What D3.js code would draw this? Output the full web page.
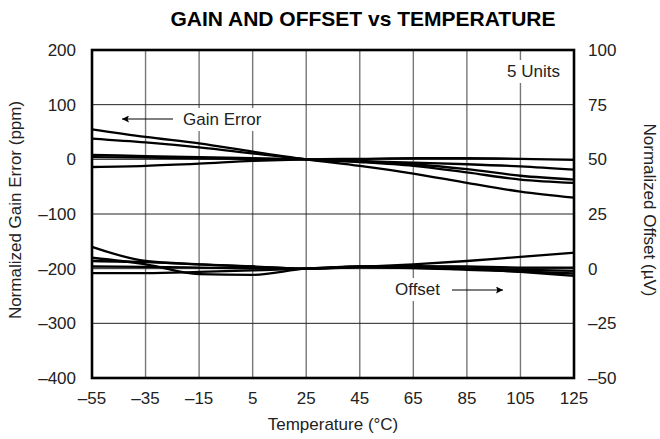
<!DOCTYPE html>
<html><head><meta charset="utf-8">
<script src="https://cdn.jsdelivr.net/npm/d3@7"></script>
<style>body{margin:0;background:#fff}svg{display:block}text{font-family:"Liberation Sans",Arial,sans-serif;fill:#222}</style>
</head><body><svg id="c" width="660" height="439"></svg>
<script>
const temps = [-55,-35,-15,5,25,45,65,85,105,125];
const xTickLabels = ["–55","–35","–15","5","25","45","65","85","105","125"];
const leftTicks = [200,100,0,-100,-200,-300,-400];
const leftTickLabels = ["200","100","0","–100","–200","–300","–400"];
const rightTicks = [100,75,50,25,0,-25,-50];
const rightTickLabels = ["100","75","50","25","0","–25","–50"];

// Gain error, ppm (left axis)
const gainA = [55,41,29,14,0,-12,-26,-43,-59,-70];
const gainB = [38,31,22,11,0,-5,-12,-24,-37,-43];
const gainC = [8,6,4,2,0,-4,-9,-18,-30,-37];
const gainD = [4,3,2,1,0,-3,-6,-9,-13,-19];
const gainE = [-14,-12,-8,-3,0,1,2,2,1,-1];
// Offset, µV (right axis)
const offA = [10,3.5,2,1,0,1,1.2,1,0.5,0.5];
const offB = [5,2,-2.5,-2.8,0,0.8,0.5,0,-0.5,-1];
const offC = [3.5,3,2,1,0,0.8,2,3.5,5.4,7.3];
const offD = [1,0.8,0.5,0.2,0,0.6,0.3,-0.5,-1.3,-2.2];
const offE = [-2,-2,-1.5,-0.8,0,1,0.8,0,-1.5,-3.3];

const svg = d3.select("#c");
const L=92,R=574,T=50,B=378;
const x = d3.scaleLinear().domain([-55,125]).range([L,R]);
const yL = d3.scaleLinear().domain([-400,200]).range([B,T]);
const yR = d3.scaleLinear().domain([-50,100]).range([B,T]);

// grid
svg.append("g").selectAll("line").data(temps.slice(1,-1)).join("line")
  .attr("x1",d=>x(d)).attr("x2",d=>x(d)).attr("y1",T).attr("y2",B)
  .attr("stroke","#777").attr("stroke-width",1.4);
svg.append("g").selectAll("line").data(leftTicks.slice(1,-1)).join("line")
  .attr("y1",d=>yL(d)).attr("y2",d=>yL(d)).attr("x1",L).attr("x2",R)
  .attr("stroke","#222").attr("stroke-width",1);

// text annotations with white boxes
function label(txt,tx,ty,anchor){
  const t = svg.append("text").attr("x",tx).attr("y",ty).attr("font-size",17).attr("text-anchor",anchor||"start").text(txt);
  const bb = t.node().getBBox();
  svg.insert("rect","text").attr("x",bb.x-3).attr("y",bb.y-2).attr("width",bb.width+6).attr("height",bb.height+4).attr("fill","#fff");
  return t;
}

// lines
const lineL = d3.line().x((d,i)=>x(temps[i])).y(d=>yL(d)).curve(d3.curveMonotoneX);
const lineR = d3.line().x((d,i)=>x(temps[i])).y(d=>yR(d)).curve(d3.curveMonotoneX);
const curves = svg.append("g").attr("fill","none").attr("stroke","#000").attr("stroke-width",2.3);
[gainA,gainB,gainC,gainD,gainE].forEach(s=>curves.append("path").attr("d",lineL(s)));
[offA,offB,offC,offD,offE].forEach(s=>curves.append("path").attr("d",lineR(s)));

label("Gain Error",183,125);
label("5 Units",507,77);
label("Offset",395,295);

// arrows
svg.append("defs").append("marker").attr("id","ah").attr("viewBox","0 0 10 10").attr("refX",10).attr("refY",5)
  .attr("markerWidth",17).attr("markerHeight",7).attr("markerUnits","userSpaceOnUse").attr("orient","auto")
  .append("path").attr("d","M0,0L10,5L0,10L2,5z").attr("fill","#000");
svg.append("line").attr("x1",173).attr("y1",119).attr("x2",122).attr("y2",119).attr("stroke","#000").attr("stroke-width",1.2).attr("marker-end","url(#ah)");
svg.append("line").attr("x1",452).attr("y1",290).attr("x2",503).attr("y2",290).attr("stroke","#000").attr("stroke-width",1.2).attr("marker-end","url(#ah)");

// frame
svg.append("rect").attr("x",L).attr("y",T).attr("width",R-L).attr("height",B-T).attr("fill","none").attr("stroke","#000").attr("stroke-width",2.6);

// tick labels
svg.append("g").selectAll("text").data(temps).join("text")
  .attr("x",d=>x(d)).attr("y",404).attr("text-anchor","middle").attr("font-size",17).text((d,i)=>xTickLabels[i]);
svg.append("g").selectAll("text").data(leftTicks).join("text")
  .attr("x",76).attr("y",d=>yL(d)).attr("dy","0.35em").attr("text-anchor","end").attr("font-size",17).text((d,i)=>leftTickLabels[i]);
svg.append("g").selectAll("text").data(rightTicks).join("text")
  .attr("x",588).attr("y",d=>yR(d)).attr("dy","0.35em").attr("text-anchor","start").attr("font-size",17).text((d,i)=>rightTickLabels[i]);

// titles
svg.append("text").attr("x",363).attr("y",26).attr("text-anchor","middle").attr("font-size",21).attr("font-weight","bold").style("fill","#000").text("GAIN AND OFFSET vs TEMPERATURE");
svg.append("text").attr("x",333).attr("y",430).attr("text-anchor","middle").attr("font-size",17).text("Temperature (°C)");
svg.append("text").attr("transform","translate(21,210) rotate(-90)").attr("text-anchor","middle").attr("font-size",17).text("Normalized Gain Error (ppm)");
svg.append("text").attr("transform","translate(644,210) rotate(90)").attr("text-anchor","middle").attr("font-size",17).text("Normalized Offset (µV)");
</script></body></html>
